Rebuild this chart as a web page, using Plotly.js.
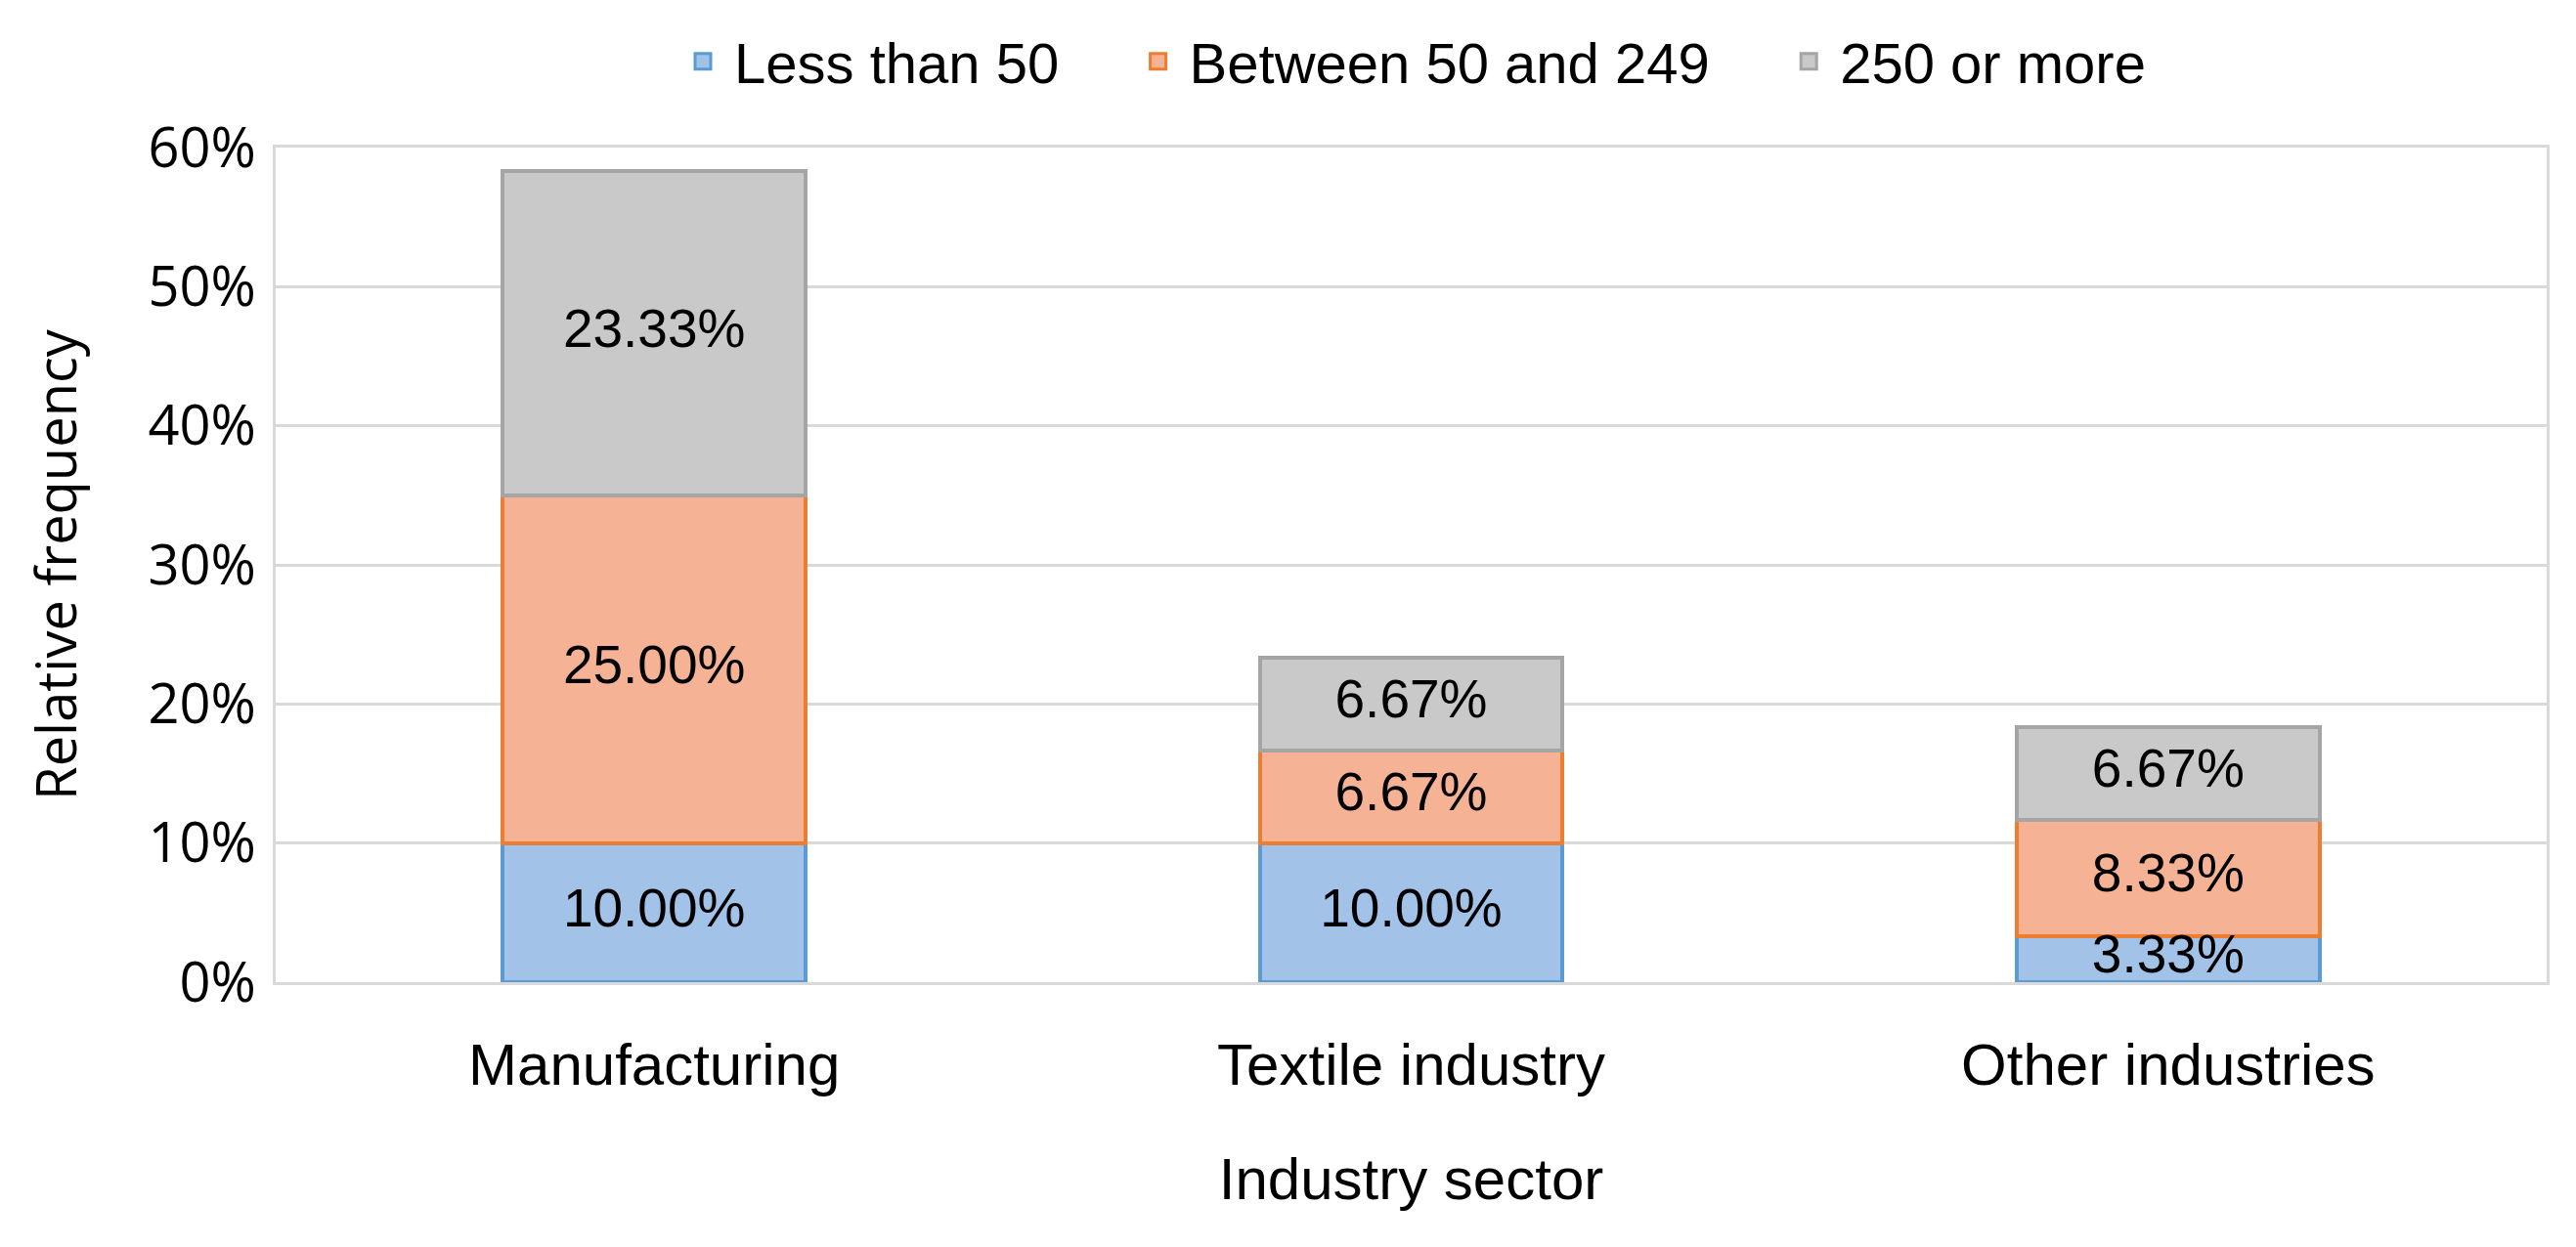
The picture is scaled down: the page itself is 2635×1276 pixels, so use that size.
<!DOCTYPE html>
<html>
<head>
<meta charset="utf-8">
<script src="https://cdn.plot.ly/plotly-3.0.1.min.js"></script>
<style>html,body{margin:0;padding:0;background:#fff;}#chart{width:2635px;height:1276px;}</style>
</head>
<body>
<div id="chart"></div>
<script>
const categories = ["Manufacturing", "Textile industry", "Other industries"];
const seriesNames = ["Less than 50", "Between 50 and 249", "250 or more"];
const lessThan50 = [0.1000, 0.1000, 0.0333];
const between50and249 = [0.2500, 0.0667, 0.0833];
const over250 = [0.2333, 0.0667, 0.0667];
const yTickVals = [0, 0.1, 0.2, 0.3, 0.4, 0.5, 0.6];
const yTickText = ["0%", "10%", "20%", "30%", "40%", "50%", "60%"];

const fills = ["#a2c2e8", "#f5b294", "#c9c9c9"];
const edges = ["#5b9bd5", "#ed7d31", "#a5a5a5"];
const labelFont = "Liberation Sans, Arial, sans-serif";
const axisFont = "Open Sans, Noto Sans, sans-serif";

const series = [lessThan50, between50and249, over250];
const traces = [];
series.forEach((vals, i) => {
  traces.push({
    type: "bar",
    name: seriesNames[i],
    x: categories,
    y: vals,
    marker: {color: fills[i], line: {color: edges[i], width: 4}},
    showlegend: false,
    hoverinfo: "skip"
  });
});
// legend entries (square swatches)
const pad = "\u00a0\u00a0\u00a0\u00a0";
series.forEach((vals, i) => {
  traces.push({
    type: "scatter",
    mode: "markers",
    name: seriesNames[i] + (i < series.length - 1 ? pad : ""),
    x: [categories[0]],
    y: [null],
    marker: {symbol: "square", size: 16, color: fills[i], line: {color: edges[i], width: 3}},
    hoverinfo: "skip"
  });
});
// data labels at segment centres
const base = categories.map(() => 0);
series.forEach((vals) => {
  traces.push({
    type: "scatter",
    mode: "text",
    x: categories,
    y: vals.map((v, j) => base[j] + v / 2),
    text: vals.map(v => (v * 100).toFixed(2) + "%"),
    textposition: "middle center",
    textfont: {family: labelFont, size: 55, color: "#000"},
    showlegend: false,
    hoverinfo: "skip",
    cliponaxis: false
  });
  vals.forEach((v, j) => base[j] += v);
});

const layout = {
  width: 2635,
  height: 1276,
  margin: {l: 282, r: 30, t: 151, b: 271},
  paper_bgcolor: "#fff",
  plot_bgcolor: "#fff",
  barmode: "stack",
  bargap: 0.6,
  showlegend: true,
  legend: {
    orientation: "h",
    x: 0.5, xanchor: "center",
    y: 1.103, yanchor: "middle",
    font: {family: labelFont, size: 58, color: "#000"},
    traceorder: "normal",
    itemsizing: "trace",
    itemwidth: 54
  },
  xaxis: {
    type: "category",
    showline: true, mirror: true, linecolor: "#d9d9d9", linewidth: 3,
    showgrid: false, ticks: "",
    tickfont: {family: labelFont, size: 60, color: "#000"},
    ticklabelstandoff: 30,
    title: {text: "Industry sector", font: {family: labelFont, size: 60, color: "#000"}, standoff: 63},
    automargin: false
  },
  yaxis: {
    range: [0, 0.6],
    tickvals: yTickVals,
    ticktext: yTickText,
    showline: true, mirror: true, linecolor: "#d9d9d9", linewidth: 3,
    showgrid: true, gridcolor: "#d9d9d9", gridwidth: 3,
    zeroline: false, ticks: "",
    tickfont: {family: axisFont, size: 56, color: "#000"},
    ticklabelstandoff: 6,
    title: {text: "Relative frequency", font: {family: axisFont, size: 56, color: "#000"}, standoff: 55},
    automargin: false
  }
};

Plotly.newPlot("chart", traces, layout, {displayModeBar: false, staticPlot: true});
</script>
</body>
</html>
